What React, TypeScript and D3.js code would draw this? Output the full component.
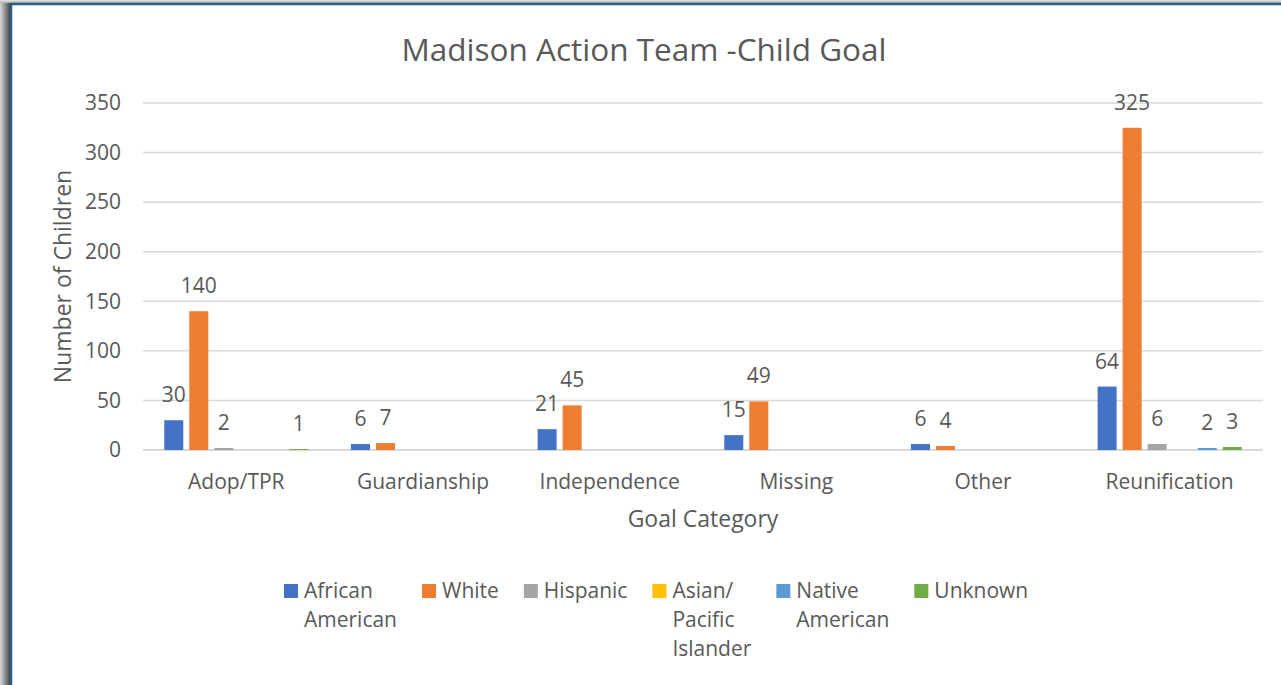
import React, { useEffect, useRef } from "react";
import * as d3 from "d3";

const categories = ["Adop/TPR", "Guardianship", "Independence", "Missing", "Other", "Reunification"];
const seriesNames = ["African American", "White", "Hispanic", "Asian/ Pacific Islander", "Native American", "Unknown"];
const legendLines = [["African", "American"], ["White"], ["Hispanic"], ["Asian/", "Pacific", "Islander"], ["Native", "American"], ["Unknown"]];
const seriesColors = ["#4472C4", "#ED7D31", "#A5A5A5", "#FFC000", "#5B9BD5", "#70AD47"];
const africanAmerican = [30, 6, 21, 15, 6, 64];
const white = [140, 7, 45, 49, 4, 325];
const hispanic = [2, null, null, null, null, 6];
const asianPacific = [null, null, null, null, null, null];
const nativeAmerican = [null, null, null, null, null, 2];
const unknown = [1, null, null, null, null, 3];
const seriesValues = [africanAmerican, white, hispanic, asianPacific, nativeAmerican, unknown];
const yTicks = [0, 50, 100, 150, 200, 250, 300, 350];

const W = 1281, H = 685;
const FONT = "'Open Sans', sans-serif";
const TXT = "#595959";

export default function App() {
  const ref = useRef<SVGSVGElement>(null);
  useEffect(() => {
    const svg = d3.select(ref.current);
    svg.selectAll("*").remove();

    // frame with shadow
    const defs = svg.append("defs");
    const lg = defs.append("linearGradient").attr("id", "shL").attr("x1", "0").attr("x2", "1").attr("y1", "0").attr("y2", "0");
    lg.append("stop").attr("offset", "0%").attr("stop-color", "#d8d8d8");
    lg.append("stop").attr("offset", "100%").attr("stop-color", "#4a4a4a");
    const tg = defs.append("linearGradient").attr("id", "shT").attr("x1", "0").attr("x2", "0").attr("y1", "0").attr("y2", "1");
    tg.append("stop").attr("offset", "0%").attr("stop-color", "#e4e4e4");
    tg.append("stop").attr("offset", "100%").attr("stop-color", "#b0b0b0");
    svg.append("rect").attr("x", 0).attr("y", 0).attr("width", W).attr("height", H).attr("fill", "#fff");
    svg.append("rect").attr("x", 0).attr("y", 0).attr("width", W).attr("height", 3).attr("fill", "url(#shT)");
    svg.append("rect").attr("x", 0).attr("y", 3).attr("width", 10).attr("height", H).attr("fill", "url(#shL)");
    svg.append("rect").attr("x", 11).attr("y", 4).attr("width", W).attr("height", H).attr("fill", "#fff").attr("stroke", "#2E5C8A").attr("stroke-width", 2.5);

    const left = 143, right = 1263, top = 103, bottom = 450;
    const x0 = d3.scaleBand().domain(categories).range([left, right]).paddingInner(0).paddingOuter(0);
    const cw = x0.bandwidth();
    const groupW = cw * 0.772;
    const x1 = d3.scaleBand().domain(seriesNames).range([(cw - groupW) / 2, (cw + groupW) / 2]).paddingInner(0.24).paddingOuter(0);
    const y = d3.scaleLinear().domain([0, 350]).range([bottom, top]);

    const g = svg.append("g");
    g.selectAll(".grid").data(yTicks).join("line")
      .attr("x1", left).attr("x2", right)
      .attr("y1", (d) => y(d)).attr("y2", (d) => y(d))
      .attr("stroke", "#D9D9D9").attr("stroke-width", (d) => (d === 0 ? 2 : 1.5));

    g.selectAll(".ytick").data(yTicks).join("text")
      .attr("x", 121).attr("y", (d) => y(d)).attr("dy", "0.35em")
      .attr("text-anchor", "end").attr("font-family", FONT).attr("font-size", 21).attr("fill", TXT)
      .text((d) => String(d));

    categories.forEach((c, ci) => {
      seriesNames.forEach((s, si) => {
        const v = seriesValues[si][ci];
        if (v == null) return;
        const bx = (x0(c) as number) + (x1(s) as number);
        g.append("rect").attr("x", bx).attr("y", y(v)).attr("width", x1.bandwidth()).attr("height", Math.max(bottom - y(v), 0))
          .attr("fill", seriesColors[si]);
        g.append("text").attr("x", bx + x1.bandwidth() / 2).attr("y", y(v) - 18)
          .attr("text-anchor", "middle").attr("font-family", FONT).attr("font-size", 21).attr("fill", TXT)
          .text(String(v));
      });
      g.append("text").attr("x", (x0(c) as number) + cw / 2).attr("y", 489)
        .attr("text-anchor", "middle").attr("font-family", FONT).attr("font-size", 21).attr("fill", TXT).text(c);
    });

    svg.append("text").attr("x", 644).attr("y", 61).attr("text-anchor", "middle")
      .attr("font-family", FONT).attr("font-size", 31.5).attr("fill", TXT).text("Madison Action Team -Child Goal");
    svg.append("text").attr("x", (left + right) / 2).attr("y", 527).attr("text-anchor", "middle")
      .attr("font-family", FONT).attr("font-size", 23).attr("fill", TXT).text("Goal Category");
    svg.append("text").attr("transform", `translate(71,${(top + bottom) / 2}) rotate(-90)`).attr("text-anchor", "middle")
      .attr("font-family", FONT).attr("font-size", 23).attr("fill", TXT).text("Number of Children");

    // legend
    const canvas = document.createElement("canvas");
    const ctx = canvas.getContext("2d")!;
    ctx.font = `21px 'Open Sans'`;
    let lx = 284;
    seriesNames.forEach((s, si) => {
      const lines = legendLines[si];
      const lgG = svg.append("g");
      lgG.append("rect").attr("x", lx).attr("y", 584).attr("width", 14).attr("height", 14).attr("fill", seriesColors[si]);
      lines.forEach((ln, li) => {
        lgG.append("text").attr("x", lx + 20).attr("y", 598 + li * 29)
          .attr("font-family", FONT).attr("font-size", 21).attr("fill", TXT).text(ln);
      });
      const maxW = d3.max(lines, (ln) => ctx.measureText(ln).width) as number;
      lx += 20 + maxW + 25;
    });
  }, []);
  return (
    <svg ref={ref} width={W} height={H} style={{ position: "absolute", left: 0, top: 0, display: "block" }} />
  );
}
